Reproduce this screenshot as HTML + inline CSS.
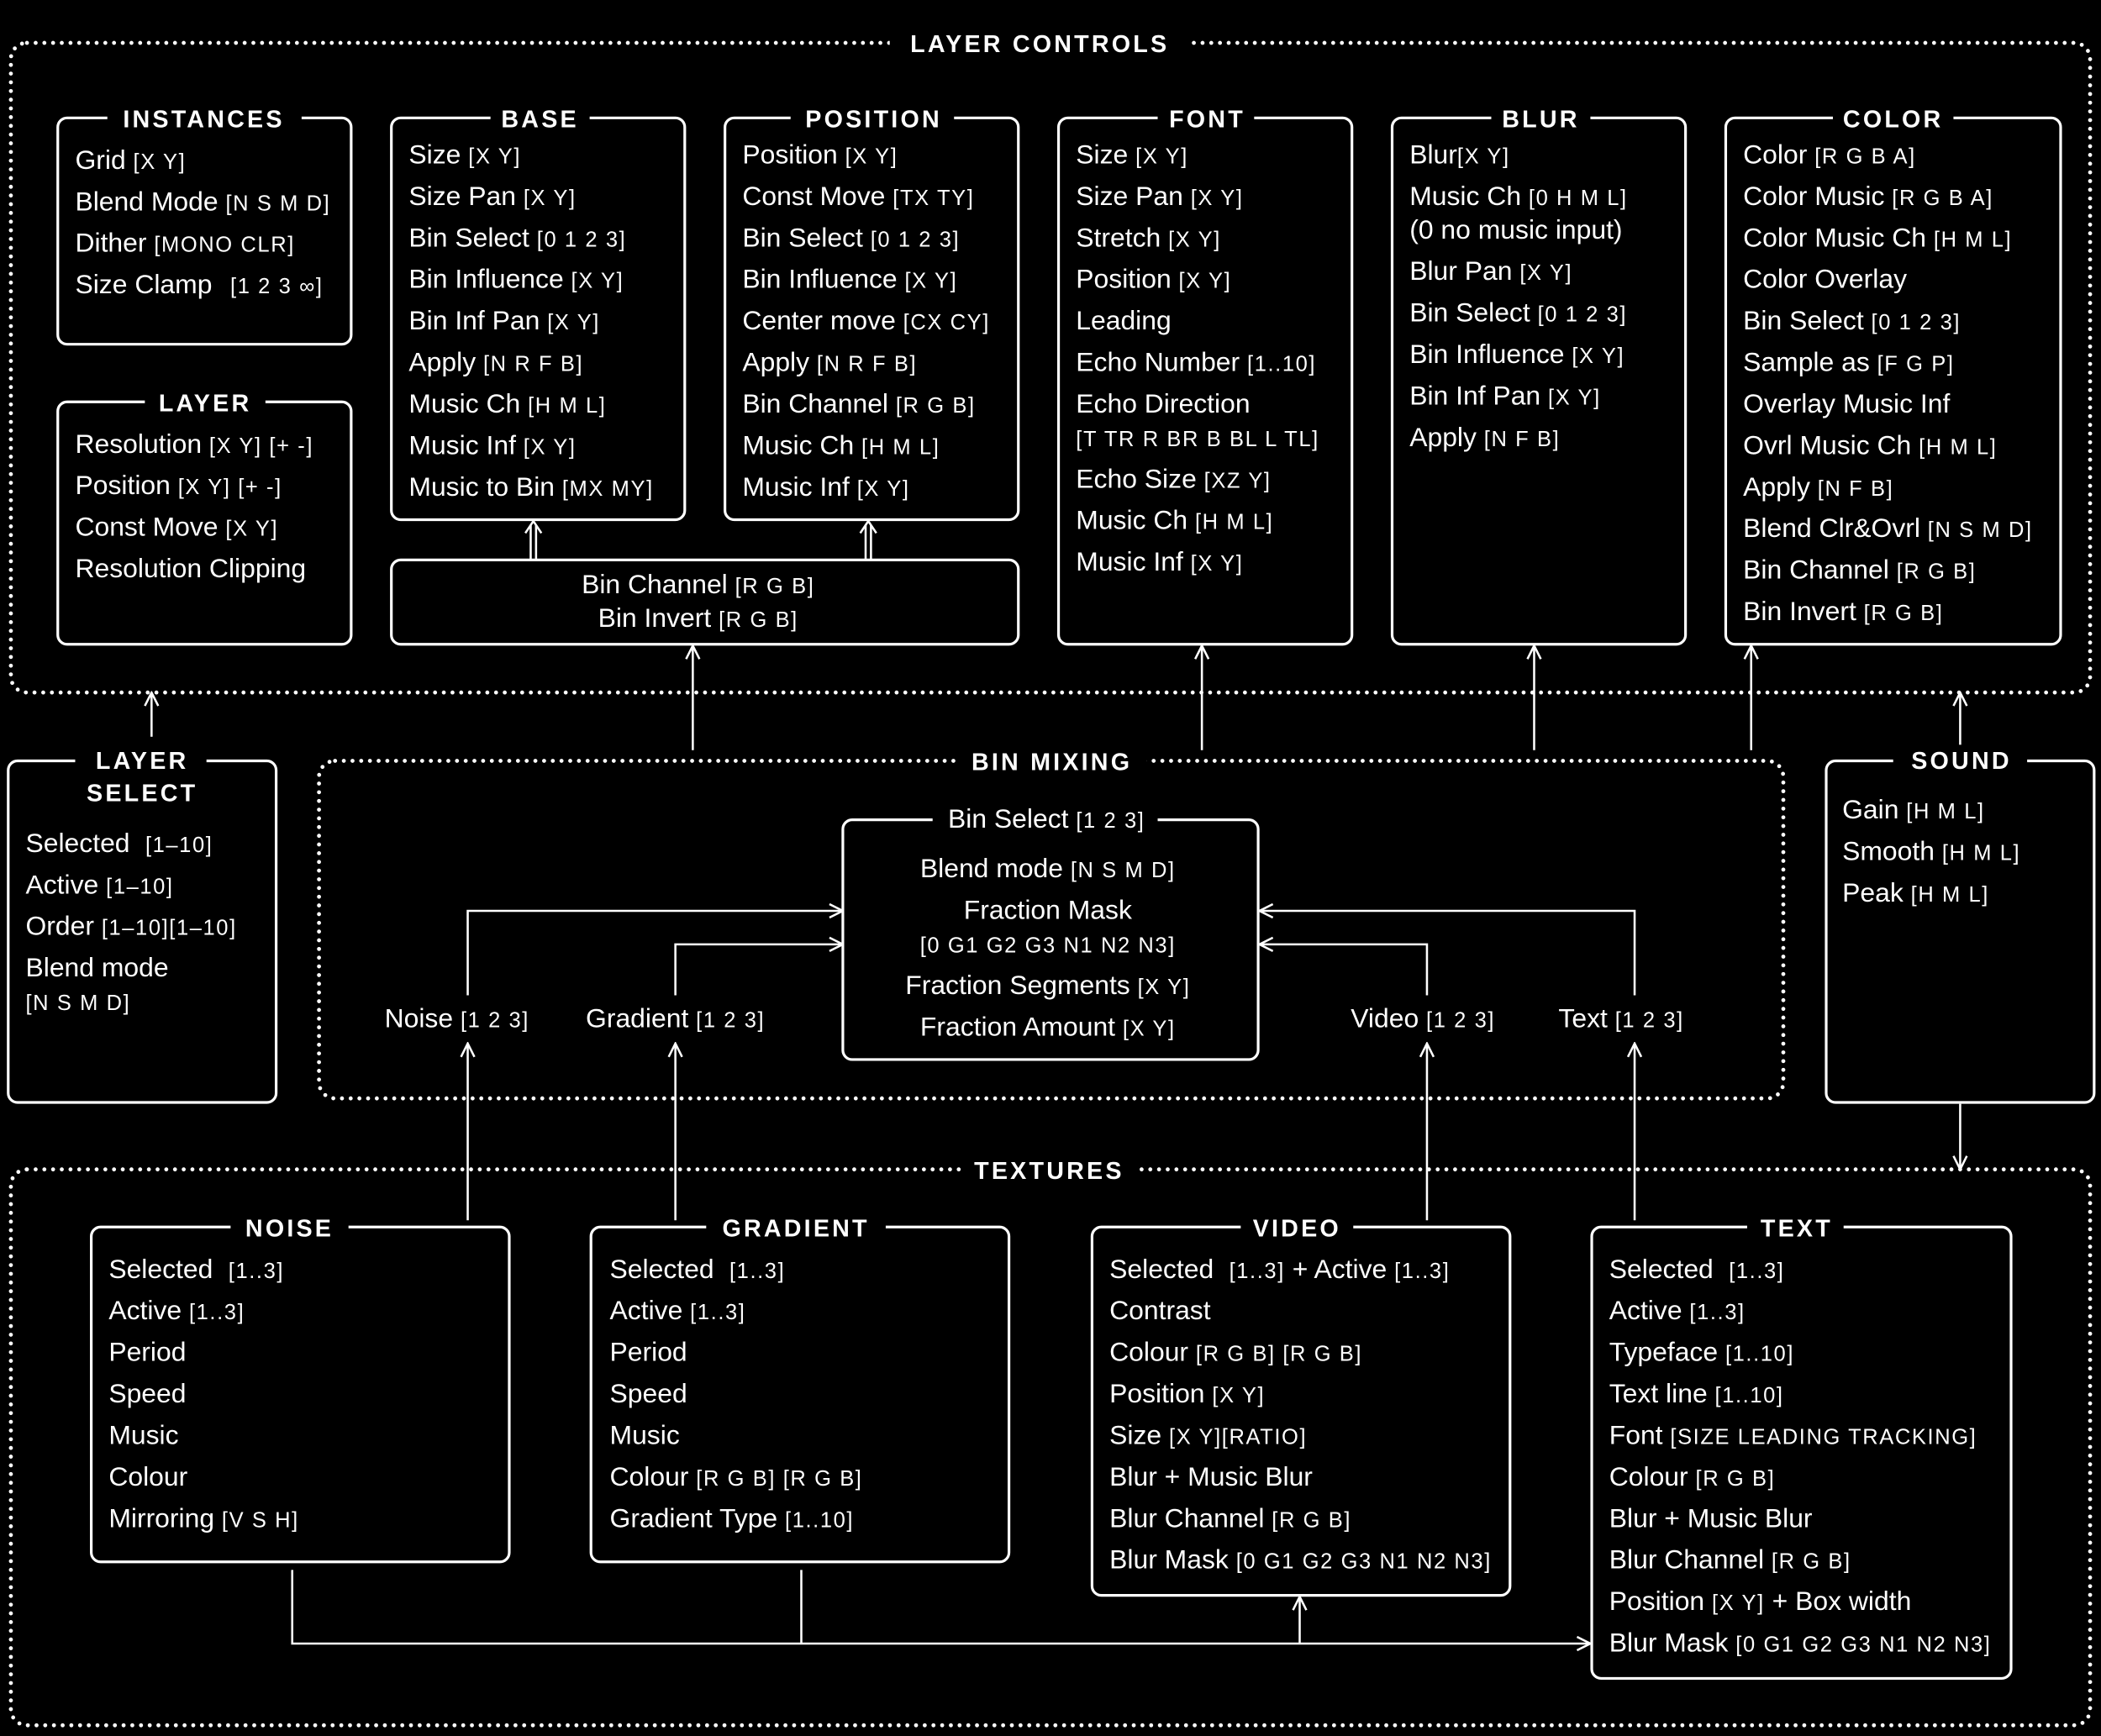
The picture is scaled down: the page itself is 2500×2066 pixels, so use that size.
<!DOCTYPE html>
<html><head><meta charset="utf-8"><style>
html,body{margin:0;padding:0;background:#000;}
svg{display:block}
text{font-family:"Liberation Sans",sans-serif;fill:#fff;font-size:20px}
.s{font-size:16px;letter-spacing:1px}
.h{font-weight:bold;font-size:18px;letter-spacing:2px}
.b{fill:none;stroke:#fff;stroke-width:2}
.d{fill:none;stroke:#fff;stroke-width:3;stroke-dasharray:0 6.5;stroke-linecap:round}
.l{fill:none;stroke:#fff;stroke-width:1.6}
.bg{fill:#000}
</style></head><body>
<svg width="2500" height="2066" viewBox="0 0 1568 1296" xmlns="http://www.w3.org/2000/svg">
<rect width="1568" height="1296" fill="#000"/>
<defs>
<marker id="a" viewBox="0 0 12 12" refX="11" refY="6" markerWidth="12" markerHeight="12" markerUnits="userSpaceOnUse" orient="auto"><path d="M1,1 L11,6 L1,11" fill="none" stroke="#fff" stroke-width="1.6"/></marker>
</defs>

<rect class="d" x="8" y="32" width="1552" height="485" rx="12"/>
<rect class="bg" x="664" y="20" width="224" height="24"/>
<text class="h" x="776" y="39" text-anchor="middle">LAYER CONTROLS</text>

<rect class="d" x="238" y="568" width="1093" height="252" rx="12"/>
<rect class="bg" x="714" y="556" width="142" height="24"/>
<text class="h" x="785" y="575" text-anchor="middle">BIN MIXING</text>

<rect class="d" x="8" y="873" width="1552" height="415" rx="12"/>
<rect class="bg" x="718" y="861" width="130" height="24"/>
<text class="h" x="783" y="880" text-anchor="middle">TEXTURES</text>

<g class="b">
<rect x="43" y="88" width="219" height="169" rx="7"/>
<rect x="43" y="300" width="219" height="181" rx="7"/>
<rect x="292" y="88" width="219" height="300" rx="7"/>
<rect x="541" y="88" width="219" height="300" rx="7"/>
<rect x="292" y="418" width="468" height="63" rx="7"/>
<rect x="790" y="88" width="219" height="393" rx="7"/>
<rect x="1039" y="88" width="219" height="393" rx="7"/>
<rect x="1288" y="88" width="250" height="393" rx="7"/>
<rect x="6" y="568" width="200" height="255" rx="7"/>
<rect x="629" y="612" width="310" height="179" rx="7"/>
<rect x="1363" y="568" width="200" height="255" rx="7"/>
<rect x="68" y="916" width="312" height="250" rx="7"/>
<rect x="441" y="916" width="312" height="250" rx="7"/>
<rect x="815" y="916" width="312" height="275" rx="7"/>
<rect x="1188" y="916" width="313" height="337" rx="7"/>
</g>
<g class="bg">
<rect x="80" y="78" width="145" height="20"/>
<rect x="108" y="290" width="90" height="20"/>
<rect x="366" y="78" width="74" height="20"/>
<rect x="590" y="78" width="122" height="20"/>
<rect x="864" y="78" width="72" height="20"/>
<rect x="1113" y="78" width="74" height="20"/>
<rect x="1368" y="78" width="90" height="20"/>
<rect x="56" y="558" width="98" height="20"/>
<rect x="1413" y="558" width="100" height="20"/>
<rect x="696" y="602" width="168" height="20"/>
<rect x="172" y="906" width="88" height="20"/>
<rect x="527" y="906" width="134" height="20"/>
<rect x="926" y="906" width="84" height="20"/>
<rect x="1304" y="906" width="72" height="20"/>
</g>
<text class="h" x="152" y="95" text-anchor="middle">INSTANCES</text>
<text class="h" x="153" y="307" text-anchor="middle">LAYER</text>
<text class="h" x="403" y="95" text-anchor="middle">BASE</text>
<text class="h" x="652" y="95" text-anchor="middle">POSITION</text>
<text class="h" x="901" y="95" text-anchor="middle">FONT</text>
<text class="h" x="1150" y="95" text-anchor="middle">BLUR</text>
<text class="h" x="1413" y="95" text-anchor="middle">COLOR</text>
<text class="h" x="106" y="574" text-anchor="middle">LAYER</text>
<text class="h" x="106" y="598" text-anchor="middle">SELECT</text>
<text class="h" x="1464" y="574" text-anchor="middle">SOUND</text>
<text x="781" y="618" text-anchor="middle">Bin Select <tspan class="s">[1 2 3]</tspan></text>
<text class="h" x="216" y="923" text-anchor="middle">NOISE</text>
<text class="h" x="594" y="923" text-anchor="middle">GRADIENT</text>
<text class="h" x="968" y="923" text-anchor="middle">VIDEO</text>
<text class="h" x="1341" y="923" text-anchor="middle">TEXT</text>

<text x="56" y="126">Grid <tspan class="s">[X Y]</tspan></text>
<text x="56" y="157">Blend Mode <tspan class="s">[N S M D]</tspan></text>
<text x="56" y="188">Dither <tspan class="s">[MONO CLR]</tspan></text>
<text x="56" y="219">Size Clamp  <tspan class="s" dx="8">[1 2 3 ∞]</tspan></text>
<text x="56" y="338">Resolution <tspan class="s">[X Y] [+ -]</tspan></text>
<text x="56" y="369">Position <tspan class="s">[X Y] [+ -]</tspan></text>
<text x="56" y="400">Const Move <tspan class="s">[X Y]</tspan></text>
<text x="56" y="431">Resolution Clipping</text>
<text x="305" y="122">Size <tspan class="s">[X Y]</tspan></text>
<text x="305" y="153">Size Pan <tspan class="s">[X Y]</tspan></text>
<text x="305" y="184">Bin Select <tspan class="s">[0 1 2 3]</tspan></text>
<text x="305" y="215">Bin Influence <tspan class="s">[X Y]</tspan></text>
<text x="305" y="246">Bin Inf Pan <tspan class="s">[X Y]</tspan></text>
<text x="305" y="277">Apply <tspan class="s">[N R F B]</tspan></text>
<text x="305" y="308">Music Ch <tspan class="s">[H M L]</tspan></text>
<text x="305" y="339">Music Inf <tspan class="s">[X Y]</tspan></text>
<text x="305" y="370">Music to Bin <tspan class="s">[MX MY]</tspan></text>
<text x="554" y="122">Position <tspan class="s">[X Y]</tspan></text>
<text x="554" y="153">Const Move <tspan class="s">[TX TY]</tspan></text>
<text x="554" y="184">Bin Select <tspan class="s">[0 1 2 3]</tspan></text>
<text x="554" y="215">Bin Influence <tspan class="s">[X Y]</tspan></text>
<text x="554" y="246">Center move <tspan class="s">[CX CY]</tspan></text>
<text x="554" y="277">Apply <tspan class="s">[N R F B]</tspan></text>
<text x="554" y="308">Bin Channel <tspan class="s">[R G B]</tspan></text>
<text x="554" y="339">Music Ch <tspan class="s">[H M L]</tspan></text>
<text x="554" y="370">Music Inf <tspan class="s">[X Y]</tspan></text>
<text x="521" y="443" text-anchor="middle">Bin Channel <tspan class="s">[R G B]</tspan></text>
<text x="521" y="468" text-anchor="middle">Bin Invert <tspan class="s">[R G B]</tspan></text>
<text x="803" y="122">Size <tspan class="s">[X Y]</tspan></text>
<text x="803" y="153">Size Pan <tspan class="s">[X Y]</tspan></text>
<text x="803" y="184">Stretch <tspan class="s">[X Y]</tspan></text>
<text x="803" y="215">Position <tspan class="s">[X Y]</tspan></text>
<text x="803" y="246">Leading</text>
<text x="803" y="277">Echo Number <tspan class="s">[1..10]</tspan></text>
<text x="803" y="308">Echo Direction</text>
<text x="803" y="333" class="s">[T TR R BR B BL L TL]</text>
<text x="803" y="364">Echo Size <tspan class="s">[XZ Y]</tspan></text>
<text x="803" y="395">Music Ch <tspan class="s">[H M L]</tspan></text>
<text x="803" y="426">Music Inf <tspan class="s">[X Y]</tspan></text>
<text x="1052" y="122">Blur<tspan class="s">[X Y]</tspan></text>
<text x="1052" y="153">Music Ch <tspan class="s">[0 H M L]</tspan></text>
<text x="1052" y="178">(0 no music input)</text>
<text x="1052" y="209">Blur Pan <tspan class="s">[X Y]</tspan></text>
<text x="1052" y="240">Bin Select <tspan class="s">[0 1 2 3]</tspan></text>
<text x="1052" y="271">Bin Influence <tspan class="s">[X Y]</tspan></text>
<text x="1052" y="302">Bin Inf Pan <tspan class="s">[X Y]</tspan></text>
<text x="1052" y="333">Apply <tspan class="s">[N F B]</tspan></text>
<text x="1301" y="122">Color <tspan class="s">[R G B A]</tspan></text>
<text x="1301" y="153">Color Music <tspan class="s">[R G B A]</tspan></text>
<text x="1301" y="184">Color Music Ch <tspan class="s">[H M L]</tspan></text>
<text x="1301" y="215">Color Overlay</text>
<text x="1301" y="246">Bin Select <tspan class="s">[0 1 2 3]</tspan></text>
<text x="1301" y="277">Sample as <tspan class="s">[F G P]</tspan></text>
<text x="1301" y="308">Overlay Music Inf</text>
<text x="1301" y="339">Ovrl Music Ch <tspan class="s">[H M L]</tspan></text>
<text x="1301" y="370">Apply <tspan class="s">[N F B]</tspan></text>
<text x="1301" y="401">Blend Clr&amp;Ovrl <tspan class="s">[N S M D]</tspan></text>
<text x="1301" y="432">Bin Channel <tspan class="s">[R G B]</tspan></text>
<text x="1301" y="463">Bin Invert <tspan class="s">[R G B]</tspan></text>
<text x="19" y="636">Selected <tspan class="s" dx="6">[1–10]</tspan></text>
<text x="19" y="667">Active <tspan class="s">[1–10]</tspan></text>
<text x="19" y="698">Order <tspan class="s">[1–10][1–10]</tspan></text>
<text x="19" y="729">Blend mode</text>
<text x="19" y="754" class="s">[N S M D]</text>
<text x="1375" y="611">Gain <tspan class="s">[H M L]</tspan></text>
<text x="1375" y="642">Smooth <tspan class="s">[H M L]</tspan></text>
<text x="1375" y="673">Peak <tspan class="s">[H M L]</tspan></text>
<text x="782" y="655" text-anchor="middle">Blend mode <tspan class="s">[N S M D]</tspan></text>
<text x="782" y="686" text-anchor="middle">Fraction Mask</text>
<text x="782" y="711" text-anchor="middle" class="s">[0 G1 G2 G3 N1 N2 N3]</text>
<text x="782" y="742" text-anchor="middle">Fraction Segments <tspan class="s">[X Y]</tspan></text>
<text x="782" y="773" text-anchor="middle">Fraction Amount <tspan class="s">[X Y]</tspan></text>
<text x="341" y="767" text-anchor="middle">Noise <tspan class="s">[1 2 3]</tspan></text>
<text x="504" y="767" text-anchor="middle">Gradient <tspan class="s">[1 2 3]</tspan></text>
<text x="1062" y="767" text-anchor="middle">Video <tspan class="s">[1 2 3]</tspan></text>
<text x="1210" y="767" text-anchor="middle">Text <tspan class="s">[1 2 3]</tspan></text>
<text x="81" y="954">Selected <tspan class="s" dx="6">[1..3]</tspan></text>
<text x="81" y="985">Active <tspan class="s">[1..3]</tspan></text>
<text x="81" y="1016">Period</text>
<text x="81" y="1047">Speed</text>
<text x="81" y="1078">Music</text>
<text x="81" y="1109">Colour</text>
<text x="81" y="1140">Mirroring <tspan class="s">[V S H]</tspan></text>
<text x="455" y="954">Selected <tspan class="s" dx="6">[1..3]</tspan></text>
<text x="455" y="985">Active <tspan class="s">[1..3]</tspan></text>
<text x="455" y="1016">Period</text>
<text x="455" y="1047">Speed</text>
<text x="455" y="1078">Music</text>
<text x="455" y="1109">Colour <tspan class="s">[R G B] [R G B]</tspan></text>
<text x="455" y="1140">Gradient Type <tspan class="s">[1..10]</tspan></text>
<text x="828" y="954">Selected <tspan class="s" dx="6">[1..3]</tspan> + Active <tspan class="s">[1..3]</tspan></text>
<text x="828" y="985">Contrast</text>
<text x="828" y="1016">Colour <tspan class="s">[R G B] [R G B]</tspan></text>
<text x="828" y="1047">Position <tspan class="s">[X Y]</tspan></text>
<text x="828" y="1078">Size <tspan class="s">[X Y][RATIO]</tspan></text>
<text x="828" y="1109">Blur + Music Blur</text>
<text x="828" y="1140">Blur Channel <tspan class="s">[R G B]</tspan></text>
<text x="828" y="1171">Blur Mask <tspan class="s">[0 G1 G2 G3 N1 N2 N3]</tspan></text>
<text x="1201" y="954">Selected <tspan class="s" dx="6">[1..3]</tspan></text>
<text x="1201" y="985">Active <tspan class="s">[1..3]</tspan></text>
<text x="1201" y="1016">Typeface <tspan class="s">[1..10]</tspan></text>
<text x="1201" y="1047">Text line <tspan class="s">[1..10]</tspan></text>
<text x="1201" y="1078">Font <tspan class="s">[SIZE LEADING TRACKING]</tspan></text>
<text x="1201" y="1109">Colour <tspan class="s">[R G B]</tspan></text>
<text x="1201" y="1140">Blur + Music Blur</text>
<text x="1201" y="1171">Blur Channel <tspan class="s">[R G B]</tspan></text>
<text x="1201" y="1202">Position <tspan class="s">[X Y]</tspan> + Box width</text>
<text x="1201" y="1233">Blur Mask <tspan class="s">[0 G1 G2 G3 N1 N2 N3]</tspan></text>

<g class="l">
<path d="M517,560 V482" marker-end="url(#a)"/>
<path d="M897,560 V482" marker-end="url(#a)"/>
<path d="M1145,560 V482" marker-end="url(#a)"/>
<path d="M1307,560 V482" marker-end="url(#a)"/>
<path d="M113,550 V517" marker-end="url(#a)"/>
<path d="M1463,556 V517" marker-end="url(#a)"/>
<path d="M1463,824 V873" marker-end="url(#a)"/>
<path d="M396,418 V392 M400,418 V392" />
<path d="M392,398 L398,389 L404,398"/>
<path d="M646,418 V392 M650,418 V392" />
<path d="M642,398 L648,389 L654,398"/>
<path d="M349,911 V779" marker-end="url(#a)"/>
<path d="M504,911 V779" marker-end="url(#a)"/>
<path d="M1065,911 V779" marker-end="url(#a)"/>
<path d="M1220,911 V779" marker-end="url(#a)"/>
<path d="M349,743 V680 H629" marker-end="url(#a)"/>
<path d="M504,743 V705 H629" marker-end="url(#a)"/>
<path d="M1065,743 V705 H940" marker-end="url(#a)"/>
<path d="M1220,743 V680 H940" marker-end="url(#a)"/>
<path d="M218,1172 V1227 H1187" marker-end="url(#a)"/>
<path d="M598,1172 V1227"/>
<path d="M970,1227 V1192" marker-end="url(#a)"/>
</g>
</svg>
</body></html>
